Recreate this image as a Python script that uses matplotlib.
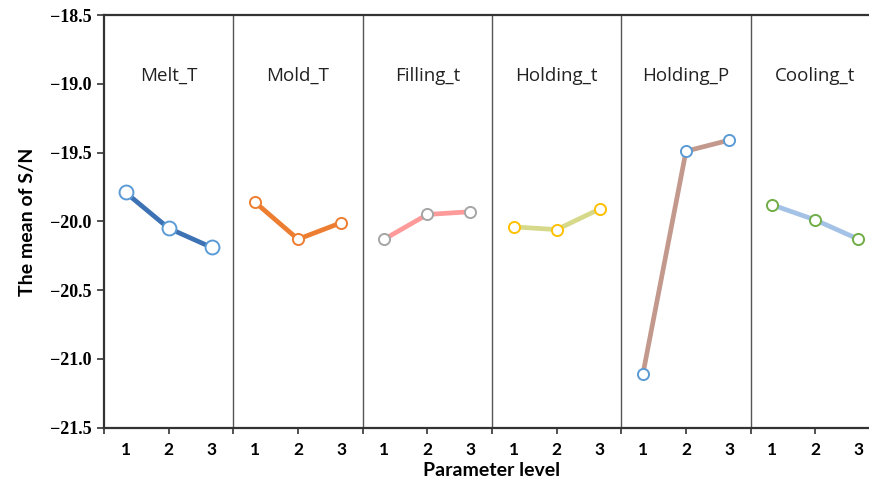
import matplotlib.pyplot as plt

factors = ["Melt_T", "Mold_T", "Filling_t", "Holding_t", "Holding_P", "Cooling_t"]
levels = ["1", "2", "3"]
melt_t = [-19.79, -20.05, -20.19]
mold_t = [-19.86, -20.13, -20.01]
filling_t = [-20.13, -19.95, -19.93]
holding_t = [-20.04, -20.06, -19.91]
holding_p = [-21.11, -19.49, -19.41]
cooling_t = [-19.88, -19.99, -20.13]
yticks = [-18.5, -19.0, -19.5, -20.0, -20.5, -21.0, -21.5]

series = [melt_t, mold_t, filling_t, holding_t, holding_p, cooling_t]
line_colors = ["#3d72b4", "#ed7d31", "#ff9a9a", "#d6d98a", "#c2998c", "#a4c2e6"]
marker_colors = ["#5b9bd5", "#ed7d31", "#a5a5a5", "#ffc000", "#5b9bd5", "#70ad47"]
marker_sizes = [10, 8, 8, 8, 8, 8]

fig = plt.figure(figsize=(8.7, 4.79), dpi=100)
ax = fig.add_axes([104 / 870, 1 - 427.7 / 479, 776 / 870, 412.7 / 479])

for i, vals in enumerate(series):
    xs = [3 * i + 0.5, 3 * i + 1.5, 3 * i + 2.5]
    ax.plot(xs, vals, color=line_colors[i], lw=3.4, marker="o",
            ms=marker_sizes[i], mfc="white", mec=marker_colors[i], mew=1.4,
            solid_capstyle="butt", zorder=3)
    ax.text(3 * i + 1.5, -18.94, factors[i], ha="center", va="center",
            fontsize=13.5, family="Open Sans", color="#222222")
    if i > 0:
        ax.axvline(3 * i, color="#555555", lw=1.0, zorder=1)

ax.set_xlim(0, 18)
ax.set_ylim(-21.5, -18.5)
ax.set_yticks(yticks)
ax.set_yticklabels(["\u2212%.1f" % abs(v) for v in yticks],
                   family="Liberation Serif", fontweight="bold", fontsize=13)

ax.xaxis.remove_overlapping_locs = False
ax.set_xticks([1.5 * k for k in range(13)])
ax.set_xticklabels([])
ax.tick_params(axis="x", length=4, width=1.2, color="#333333")
ax.tick_params(axis="y", length=5, width=1.2, color="#333333", pad=4)
ax.set_xticks([3 * i + j + 0.5 for i in range(6) for j in range(3)], minor=True)
ax.set_xticklabels(levels * 6, minor=True, fontweight="bold", fontsize=12.5,
                   family="Lato")
ax.tick_params(axis="x", which="minor", length=0, pad=10)

for s in ["left", "bottom", "top"]:
    ax.spines[s].set_linewidth(1.6)
    ax.spines[s].set_color("#333333")
ax.spines["right"].set_visible(False)

ax.set_ylabel("The mean of S/N", fontweight="bold", fontsize=14, family="Lato",
              labelpad=10)
ax.set_xlabel("Parameter level", fontweight="bold", fontsize=14, family="Lato",
              labelpad=3)

fig.savefig("out.png", dpi=100)
